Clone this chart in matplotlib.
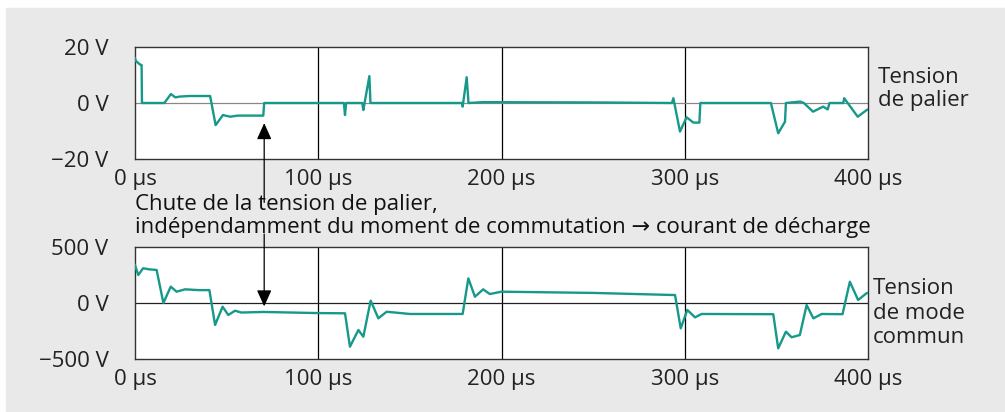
import matplotlib.pyplot as plt
from matplotlib.patches import Rectangle

plt.rcParams['font.family'] = ['Open Sans', 'DejaVu Sans']

# Tension de palier (V) vs time (µs)
t_palier = [0, 0.5, 3.0, 3.6, 3.8, 16, 19.6, 22, 24.5, 30, 40.5, 41, 44, 48, 52, 56, 70, 70.5,
            114, 114.6, 115.2, 124, 124.6, 127.9, 128.5,
            178.5, 178.8, 181, 182, 190, 250, 293, 293.8, 297.4, 301, 304.7, 308, 308.5,
            347, 351, 354.7, 355.2, 363, 365, 370, 375.5, 378, 379, 386.5, 387, 394.4, 399.3, 400]
v_palier = [16, 15, 13.6, 13.6, 0, 0, 3.2, 2.0, 2.3, 2.5, 2.5, 2.5, -7.9, -4.3, -4.9, -4.5, -4.5, 0,
            0, -4.3, 0, 0, -2.5, 9.6, 0,
            0, -1.3, 9.2, 0, 0.3, 0.2, 0, 1.7, -10.2, -5.1, -7, -7, 0,
            0, -10.8, -6.7, 0, 0.5, 0, -3.1, -1.3, -2.3, 0, 0, 1.7, -4.9, -2.5, -2.3]

# Tension de mode commun (V) vs time (µs)
t_mode = [0, 1.8, 4.4, 8, 11.8, 15.5, 19.5, 22.7, 27.3, 35, 40.6, 43.7, 47.8, 50.9, 54.6, 58, 70, 100, 114.6,
          117.3, 121.9, 124.6, 128.6, 132.8, 137.3, 150, 178.8, 181.9, 185.5, 190, 193.6, 200, 250, 294.7,
          297.8, 301.4, 305.6, 309.2, 348.3, 351, 355.2, 358.3, 362.8, 366.5, 370.2, 374.7, 386.1,
          390.1, 394.6, 399.2, 400]
v_mode = [339, 250, 310, 300, 295, 0, 146, 101, 122, 115, 115, -196, -33, -107, -69, -85, -80, -90, -92,
          -390, -241, -301, 21, -137, -78, -98, -98, 220, 56, 122, 80, 101, 90, 71,
          -226, -62, -128, -98, -100, -405, -256, -306, -286, -18, -137, -98, -100,
          190, 27, 87, 90]

teal = '#16998a'
fs = 16
fig = plt.figure(figsize=(10.05, 4.12), dpi=100)
fig.patches.append(Rectangle((6 / 1005, 0), 1, 1 - 8 / 412, transform=fig.transFigure,
                             color='#e9e9e9', zorder=-10))

ax1 = fig.add_axes([135 / 1005, 1 - 159 / 412, 733 / 1005, 112 / 412])
ax2 = fig.add_axes([135 / 1005, 1 - 359 / 412, 733 / 1005, 112 / 412])

for ax, t, v, lim, yt, ylabels, zc in [
        (ax1, t_palier, v_palier, 20, [-20, 0, 20], ['\u221220 V', '0 V', '20 V'], '#888888'),
        (ax2, t_mode, v_mode, 500, [-500, 0, 500], ['\u2212500 V', '0 V', '500 V'], '#222222')]:
    ax.set_facecolor('white')
    ax.plot(t, v, color=teal, lw=1.7, zorder=3)
    ax.set_xlim(0, 400)
    ax.set_ylim(-lim, lim)
    for xg in [100, 200, 300]:
        ax.axvline(xg, color='black', lw=0.9, zorder=1)
    ax.axhline(0, color=zc, lw=0.9, zorder=1)
    ax.set_xticks([0, 100, 200, 300, 400])
    ax.set_xticklabels(['0 µs', '100 µs', '200 µs', '300 µs', '400 µs'])
    ax.set_yticks(yt)
    ax.set_yticklabels(ylabels)
    ax.tick_params(axis='both', length=0, labelsize=fs, colors='#222222')
    ax.tick_params(axis='y', pad=19)
    ax.tick_params(axis='x', pad=7)
    for s in ax.spines.values():
        s.set_color('#333333')
        s.set_linewidth(1.0)

ax1.text(1.0136, 0.625, 'Tension\nde palier', transform=ax1.transAxes, fontsize=fs,
         va='center', ha='left', color='#222222', linespacing=1.15)
ax2.text(1.0068, 0.41, 'Tension\nde mode\ncommun', transform=ax2.transAxes, fontsize=fs,
         va='center', ha='left', color='#222222', linespacing=1.22)

fig.text(135 / 1005, 1 - 216 / 412,
         'Chute de la tension de palier,\nindépendamment du moment de commutation \u2192 courant de décharge',
         fontsize=fs, va='center', ha='left', color='#111111', linespacing=1.12)

# arrows from the text to both traces
ax1.annotate('', xy=(70.5, -6.2), xycoords='data', xytext=(70.5, -36.5),
             textcoords='data', annotation_clip=False,
             arrowprops=dict(arrowstyle='-|>,head_width=0.45,head_length=1.0', color='black', lw=0.9))
ax2.annotate('', xy=(70.5, -55), xycoords='data', xytext=(70.5, 640),
             textcoords='data', annotation_clip=False,
             arrowprops=dict(arrowstyle='-|>,head_width=0.45,head_length=1.0', color='black', lw=0.9))

fig.savefig('out.png', dpi=100)
